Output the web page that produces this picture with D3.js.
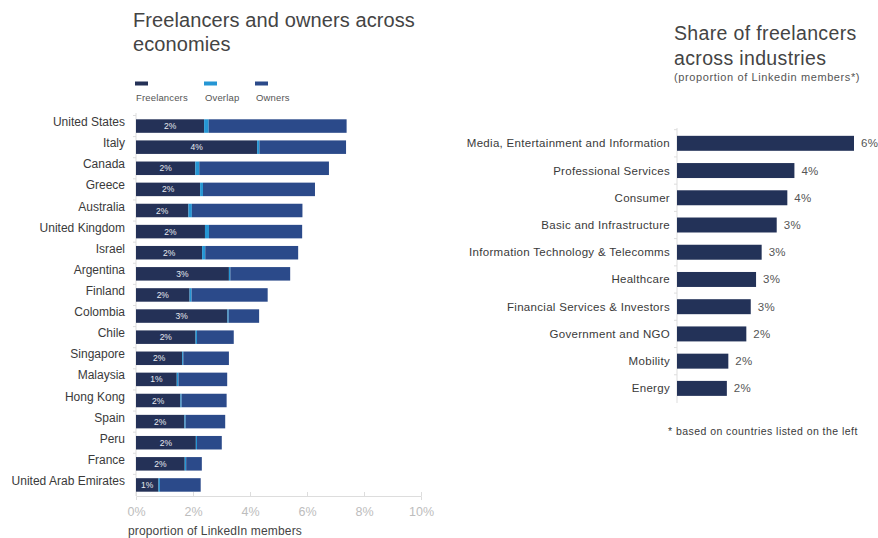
<!DOCTYPE html>
<html><head><meta charset="utf-8">
<script src="https://cdnjs.cloudflare.com/ajax/libs/d3/7.8.5/d3.min.js"></script>
<style>
html,body{margin:0;padding:0;background:#fff;}
svg{display:block;font-family:"Liberation Sans",Arial,Helvetica,sans-serif;}
</style></head>
<body><svg id="c" width="878" height="538"></svg>
<script>
// ---- Left chart data ----
const countries = ["United States","Italy","Canada","Greece","Australia","United Kingdom","Israel","Argentina","Finland","Colombia","Chile","Singapore","Malaysia","Hong Kong","Spain","Peru","France","United Arab Emirates"];
const freelancers = [2.39,4.25,2.08,2.25,1.84,2.42,2.32,3.26,1.88,3.21,2.09,1.62,1.43,1.56,1.70,2.10,1.71,0.79];
const overlap     = [0.16,0.08,0.14,0.10,0.12,0.14,0.11,0.05,0.07,0.04,0.05,0.04,0.06,0.04,0.04,0.04,0.05,0.05];
const owners      = [4.84,3.04,4.55,3.93,3.88,3.27,3.26,2.10,2.67,1.07,1.29,1.60,1.71,1.58,1.39,0.87,0.55,1.43];
const freelancerLabels = ["2%","4%","2%","2%","2%","2%","2%","3%","2%","3%","2%","2%","1%","2%","2%","2%","2%","1%"];
const xTicks = [0,2,4,6,8,10];
const seriesNames = ["Freelancers","Overlap","Owners"];

// ---- Right chart data ----
const industries = ["Media, Entertainment and Information","Professional Services","Consumer","Basic and Infrastructure","Information Technology & Telecomms","Healthcare","Financial Services & Investors","Government and NGO","Mobility","Energy"];
const industryShare = [6.0,3.98,3.74,3.38,2.87,2.68,2.5,2.35,1.74,1.69];
const industryLabels = ["6%","4%","4%","3%","3%","3%","3%","2%","2%","2%"];

const colors = {Freelancers:"#243157", Overlap:"#2596d4", Owners:"#2b4a8a"};
const svg = d3.select("#c");

// ================= LEFT CHART =================
const x = d3.scaleLinear().domain([0,10]).range([136,421]);
const y = d3.scaleBand().domain(countries).range([115.5,495.5]).paddingInner(0.36).paddingOuter(0.18);

// titles
const t1 = svg.append("text").attr("x",133).attr("y",27).attr("font-size",20).attr("fill","#444").attr("letter-spacing",0.1);
t1.append("tspan").attr("x",133).text("Freelancers and owners across");
t1.append("tspan").attr("x",133).attr("dy",24).text("economies");

// legend
const legX = [135,204,255];
seriesNames.forEach((n,i)=>{
  svg.append("rect").attr("x",legX[i]).attr("y",81.5).attr("width",13).attr("height",4).attr("fill",colors[n]);
  svg.append("text").attr("x",legX[i]+1).attr("y",100.5).attr("font-size",9.5).attr("letter-spacing",0.15).attr("fill","#555").text(n);
});

// y axis line w/ band ticks
svg.append("line").attr("x1",136).attr("x2",136).attr("y1",113).attr("y2",496).attr("stroke","#ddd");
const bstep = y.step();
countries.forEach((c,i)=>{
  const yy = y(c) - (bstep - y.bandwidth())/2;
  svg.append("line").attr("x1",133).attr("x2",136).attr("y1",yy).attr("y2",yy).attr("stroke","#ddd");
});

// stacked bars
const stackData = countries.map((c,i)=>({country:c, Freelancers:freelancers[i], Overlap:overlap[i], Owners:owners[i]}));
const stack = d3.stack().keys(seriesNames)(stackData);
svg.append("g").selectAll("g").data(stack).join("g").attr("fill",d=>colors[d.key])
  .selectAll("rect").data(d=>d).join("rect")
  .attr("x",d=>x(d[0])).attr("width",d=>x(d[1])-x(d[0]))
  .attr("y",d=>y(d.data.country)).attr("height",y.bandwidth());

// bar labels
svg.append("g").selectAll("text").data(countries).join("text")
  .attr("x",(c,i)=>x(freelancers[i]/2)).attr("y",c=>y(c)+y.bandwidth()/2+3)
  .attr("text-anchor","middle").attr("font-size",8.5).attr("fill","#e6e9f0")
  .text((c,i)=>freelancerLabels[i]);

// country labels
svg.append("g").selectAll("text").data(countries).join("text")
  .attr("x",125).attr("y",c=>y(c)+y.bandwidth()/2).attr("text-anchor","end")
  .attr("font-size",12).attr("fill","#3a3a3a").text(c=>c);

// x axis
const xAxis = svg.append("g").attr("transform","translate(0,496)")
  .call(d3.axisBottom(x).tickValues(xTicks).tickFormat(d=>d+"%").tickSize(4).tickPadding(7));
xAxis.select(".domain").attr("stroke","#ddd");
xAxis.selectAll(".tick line").attr("stroke","#ddd").attr("transform","translate(0,-4)");
xAxis.selectAll(".tick text").attr("fill","#bdbdbd").attr("font-size",12.5).attr("font-family","Liberation Sans, Arial, sans-serif");
svg.append("text").attr("x",128).attr("y",534.5).attr("font-size",12).attr("letter-spacing",0.15).attr("fill","#444").text("proportion of LinkedIn members");

// ================= RIGHT CHART =================
const x2 = d3.scaleLinear().domain([0,6]).range([677,854]);
const y2 = d3.scaleBand().domain(industries).range([129.7,402]).paddingInner(0.45).paddingOuter(0.225);

const t2 = svg.append("text").attr("x",674).attr("y",40).attr("font-size",19.5).attr("letter-spacing",0.35).attr("fill","#444");
t2.append("tspan").attr("x",674).text("Share of freelancers");
t2.append("tspan").attr("x",674).attr("dy",25).text("across industries");
svg.append("text").attr("x",674).attr("y",81).attr("font-size",11).attr("letter-spacing",0.6).attr("fill","#555").text("(proportion of Linkedin members*)");

svg.append("line").attr("x1",677).attr("x2",677).attr("y1",128).attr("y2",403).attr("stroke","#ddd");
const bstep2 = y2.step();
industries.forEach(c=>{
  const yy = y2(c) - (bstep2 - y2.bandwidth())/2;
  svg.append("line").attr("x1",674).attr("x2",677).attr("y1",yy).attr("y2",yy).attr("stroke","#ddd");
});

svg.append("g").selectAll("rect").data(industries).join("rect")
  .attr("x",x2(0)).attr("y",c=>y2(c)).attr("height",y2.bandwidth())
  .attr("width",(c,i)=>x2(industryShare[i])-x2(0)).attr("fill","#233258");

svg.append("g").selectAll("text").data(industries).join("text")
  .attr("x",(c,i)=>x2(industryShare[i])+7).attr("y",c=>y2(c)+y2.bandwidth()/2+4)
  .attr("font-size",11.5).attr("letter-spacing",0.3).attr("fill","#555").text((c,i)=>industryLabels[i]);

svg.append("g").selectAll("text").data(industries).join("text")
  .attr("x",670).attr("y",c=>y2(c)+y2.bandwidth()/2+4).attr("text-anchor","end")
  .attr("font-size",11.5).attr("letter-spacing",0.3).attr("fill","#3a3a3a").text(c=>c);

svg.append("text").attr("x",668).attr("y",434.5).attr("font-size",10.5).attr("letter-spacing",0.45).attr("fill","#3a3a3a").text("* based on countries listed on the left");
</script></body></html>
